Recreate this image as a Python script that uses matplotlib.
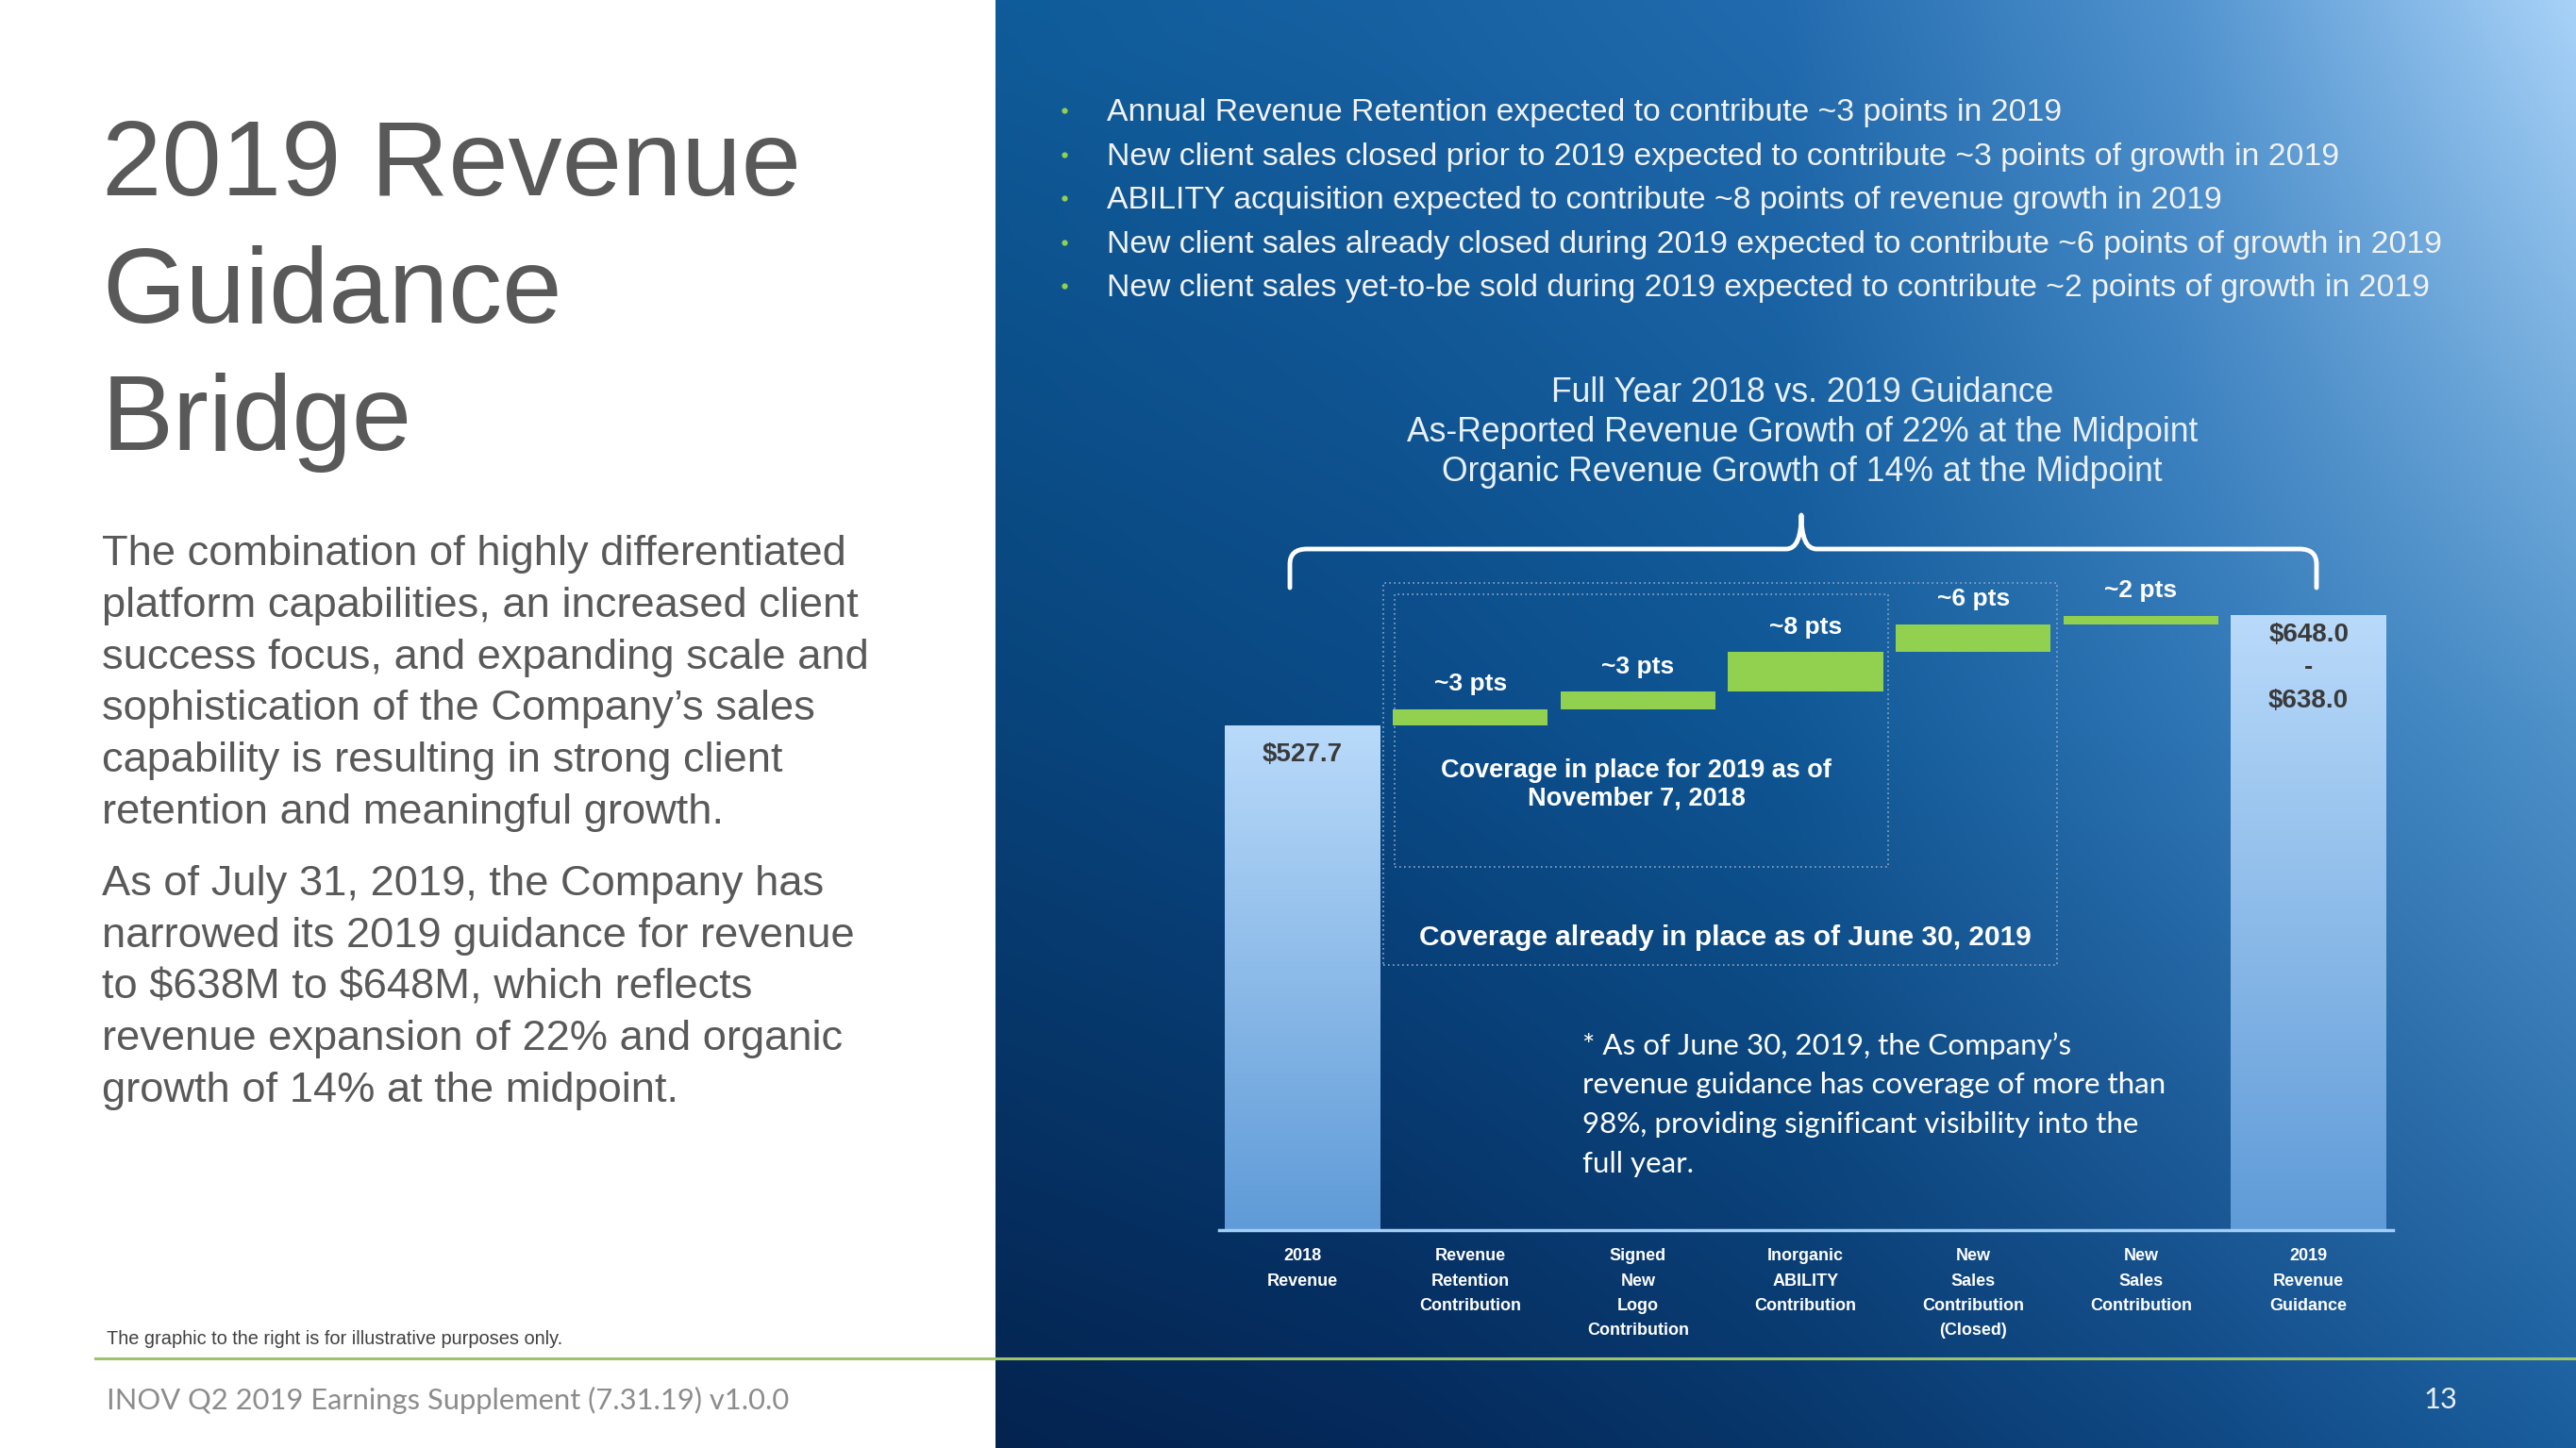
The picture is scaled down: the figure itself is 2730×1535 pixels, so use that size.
#!/usr/bin/env python3
"""2019 revenue guidance bridge slide: waterfall from 2018 revenue to 2019 guidance."""

import matplotlib.pyplot as plt
import numpy as np
from matplotlib.colors import LinearSegmentedColormap, to_rgb
from matplotlib.patches import PathPatch, Rectangle
from matplotlib.path import Path

plt.rcParams["font.family"] = ["Liberation Sans", "DejaVu Sans"]

# ---- data -------------------------------------------------------------
CATEGORIES = [
    "2018\nRevenue",
    "Revenue\nRetention\nContribution",
    "Signed\nNew\nLogo\nContribution",
    "Inorganic\nABILITY\nContribution",
    "New\nSales\nContribution\n(Closed)",
    "New\nSales\nContribution",
    "2019\nRevenue\nGuidance",
]
REVENUE_2018 = 527.7
STEP_VALUES = [17.4, 18.1, 41.8, 29.0, 8.9]
STEP_LABELS = ["~3 pts", "~3 pts", "~8 pts", "~6 pts", "~2 pts"]
GUIDANCE_LOW = 638.0
GUIDANCE_HIGH = 648.0

BULLETS = [
    "Annual Revenue Retention expected to contribute ~3 points in 2019",
    "New client sales closed prior to 2019 expected to contribute ~3 points of growth in 2019",
    "ABILITY acquisition expected to contribute ~8 points of revenue growth in 2019",
    "New client sales already closed during 2019 expected to contribute ~6 points of growth in 2019",
    "New client sales yet-to-be sold during 2019 expected to contribute ~2 points of growth in 2019",
]
HEADER_LINES = [
    "Full Year 2018 vs. 2019 Guidance",
    "As-Reported Revenue Growth of 22% at the Midpoint",
    "Organic Revenue Growth of 14% at the Midpoint",
]
TITLE_LINES = ["2019 Revenue", "Guidance", "Bridge"]
PARA1 = [
    "The combination of highly differentiated",
    "platform capabilities, an increased client",
    "success focus, and expanding scale and",
    "sophistication of the Company\u2019s sales",
    "capability is resulting in strong client",
    "retention and meaningful growth.",
]
PARA2 = [
    "As of July 31, 2019, the Company has",
    "narrowed its 2019 guidance for revenue",
    "to \\$638M to \\$648M, which reflects",
    "revenue expansion of 22% and organic",
    "growth of 14% at the midpoint.",
]
NOTE_LINES = [
    "* As of June 30, 2019, the Company\u2019s",
    "revenue guidance has coverage of more than",
    "98%, providing significant visibility into the",
    "full year.",
]

# ---- style ------------------------------------------------------------
W, H = 2730, 1535
PANEL_X = 1055
GRAY_TEXT = "#595959"
GREEN = "#92d050"
CALIBRI_LIKE = ["Lato", "DejaVu Sans"]
BAR_CMAP = LinearSegmentedColormap.from_list("bar", ["#5f9bd8", "#b9dafa"])

PANEL_U = [0.0, 0.25, 0.5, 0.75, 1.0]
PANEL_V = [0.0, 0.5, 1.0]
PANEL_COLORS = [
    ["#0f5c9a", "#1761a2", "#226bae", "#5193cf", "#a8d2f8"],
    ["#08437a", "#0a4a86", "#0f5795", "#2d74b4", "#4f92ca"],
    ["#04234f", "#05295a", "#08366a", "#0f4782", "#1a5e9e"],
]


def panel_gradient(width, height):
    grid = np.array([[to_rgb(c) for c in row] for row in PANEL_COLORS])
    u = np.linspace(0, 1, width)
    v = np.linspace(0, 1, height)
    rows = np.stack(
        [np.stack([np.interp(u, PANEL_U, grid[r, :, ch]) for ch in range(3)], -1)
         for r in range(len(PANEL_V))]
    )
    img = np.empty((height, width, 3))
    for ch in range(3):
        for i in range(width):
            img[:, i, ch] = np.interp(v, PANEL_V, rows[:, i, ch])
    return img


fig = plt.figure(figsize=(W / 100, H / 100), dpi=100, facecolor="white")

# background axes in slide pixel coordinates
bg = fig.add_axes([0, 0, 1, 1])
bg.set_xlim(0, W)
bg.set_ylim(H, 0)
bg.axis("off")
bg.imshow(panel_gradient(420, 384), extent=(PANEL_X, W, H, 0), aspect="auto",
          interpolation="bilinear", zorder=0)
bg.set_xlim(0, W)
bg.set_ylim(H, 0)
bg.plot([101, W], [1440, 1440], color="#9dc36b", lw=2.2, zorder=2)

# left column text
for i, line in enumerate(TITLE_LINES):
    bg.text(108, 207 + i * 135, line, fontsize=82, color=GRAY_TEXT, va="baseline")
for i, line in enumerate(PARA1):
    bg.text(108, 599 + i * 54.8, line, fontsize=32.6, color=GRAY_TEXT, va="baseline")
for i, line in enumerate(PARA2):
    bg.text(108, 949 + i * 54.8, line, fontsize=32.6, color=GRAY_TEXT, va="baseline")
bg.text(113, 1425, "The graphic to the right is for illustrative purposes only.",
        fontsize=14.4, color="#404040", va="baseline")
bg.text(113, 1484, "INOV Q2 2019 Earnings Supplement (7.31.19) v1.0.0",
        fontsize=22.2, color="#8c8c8c", va="center", family=CALIBRI_LIKE)
bg.text(2586, 1484, "13", fontsize=22.2, color="#e8eef5", ha="center", va="center",
        family=CALIBRI_LIKE)

# bullets
for i, line in enumerate(BULLETS):
    y = 128 + i * 46.6
    bg.plot(1128, y - 11, marker="o", ms=4.5, color=GREEN, mec="none")
    bg.text(1173, y, line, fontsize=24.3, color="#f2f2f2", va="baseline")

# chart header
for i, line in enumerate(HEADER_LINES):
    bg.text(1910, 426 + i * 41.8, line, fontsize=25.6, color="#e8f0f8",
            ha="center", va="baseline")

# brace
brace = Path(
    [(1367, 623), (1367, 598), (1367, 582), (1385, 582), (1893, 582),
     (1909, 582), (1909, 546), (1909, 582), (1925, 582), (2437, 582),
     (2455, 582), (2455, 598), (2455, 623)],
    [Path.MOVETO, Path.LINETO, Path.CURVE3, Path.CURVE3, Path.LINETO,
     Path.CURVE3, Path.CURVE3, Path.CURVE3, Path.CURVE3, Path.LINETO,
     Path.CURVE3, Path.CURVE3, Path.LINETO],
)
bg.add_patch(PathPatch(brace, fill=False, edgecolor="white", lw=3.5,
                       capstyle="round", joinstyle="round", zorder=3))

# footnote inside the chart
for i, line in enumerate(NOTE_LINES):
    bg.text(1677, 1118 + i * 41.5, line, fontsize=22.6, color="white", va="baseline",
            family=CALIBRI_LIKE, zorder=3)

# ---- waterfall chart ----------------------------------------------------
ax = fig.add_axes([1291.7 / W, 1 - 1304 / H, 1243.8 / W, 709.3 / H])
ax.set_facecolor("none")
for side in ("top", "left", "right"):
    ax.spines[side].set_visible(False)
ax.spines["bottom"].set_color("#a3cdf2")
ax.spines["bottom"].set_linewidth(2.5)
ax.spines["bottom"].set_zorder(5)

bar_width = 0.925
guidance_mid = (GUIDANCE_LOW + GUIDANCE_HIGH) / 2
end_x = [0, len(CATEGORIES) - 1]
end_vals = [REVENUE_2018, guidance_mid]
end_bars = ax.bar(end_x, end_vals, width=bar_width, color="#8fbfee", zorder=2)
grad = np.linspace(0, 1, 256).reshape(-1, 1)
for bar in end_bars:
    x0 = bar.get_x()
    im = ax.imshow(grad, extent=(x0, x0 + bar.get_width(), 0, bar.get_height()),
                   origin="lower", aspect="auto", cmap=BAR_CMAP, zorder=2.5)
    im.set_clip_path(bar)

step_x = np.arange(1, len(STEP_VALUES) + 1)
bottoms = REVENUE_2018 + np.concatenate([[0], np.cumsum(STEP_VALUES)[:-1]])
ax.bar(step_x, STEP_VALUES, bottom=bottoms, width=bar_width, color=GREEN, zorder=3)
for x, b, v, lab in zip(step_x, bottoms, STEP_VALUES, STEP_LABELS):
    ax.annotate(lab, xy=(x, b + v), xytext=(0, 19), textcoords="offset points",
                ha="center", va="center", color="white", fontsize=19,
                fontweight="bold", zorder=4)

ax.annotate(f"\\${REVENUE_2018:.1f}", xy=(0, REVENUE_2018), xytext=(0, -22),
            textcoords="offset points", ha="center", va="center",
            color="#3a3a3a", fontsize=20, fontweight="bold", zorder=4)
for text, dy in [(f"\\${GUIDANCE_HIGH:.1f}", -15), ("-", -40),
                 (f"\\${GUIDANCE_LOW:.1f}", -65)]:
    ax.annotate(text, xy=(end_x[1], guidance_mid), xytext=(0, dy),
                textcoords="offset points", ha="center", va="center",
                color="#3a3a3a", fontsize=20, fontweight="bold", zorder=4)

# coverage boxes
box_style = dict(fill=False, edgecolor="#8fa6c4", lw=1.2, linestyle=(0, (1, 2)), zorder=1.5)
ax.add_patch(Rectangle((0.48, 277.0), 4.02, 399.7, **box_style))
ax.add_patch(Rectangle((0.55, 380.0), 2.94, 285.1, **box_style))
ax.text(1.99, 466, "Coverage in place for 2019 as of\nNovember 7, 2018", ha="center",
        va="center", color="white", fontsize=19.5, fontweight="bold", linespacing=1.2)
ax.text(2.52, 306, "Coverage already in place as of June 30, 2019", ha="center",
        va="center", color="white", fontsize=21.5, fontweight="bold")

ax.set_xlim(-0.5, 6.5)
ax.set_ylim(0, 700)
ax.set_yticks([])
ax.set_xticks(range(len(CATEGORIES)))
ax.set_xticklabels(CATEGORIES, fontsize=13, fontweight="bold", color="white",
                   linespacing=1.7)
ax.tick_params(axis="x", length=0, pad=14)

fig.savefig("out.png", dpi=100, facecolor="white")
